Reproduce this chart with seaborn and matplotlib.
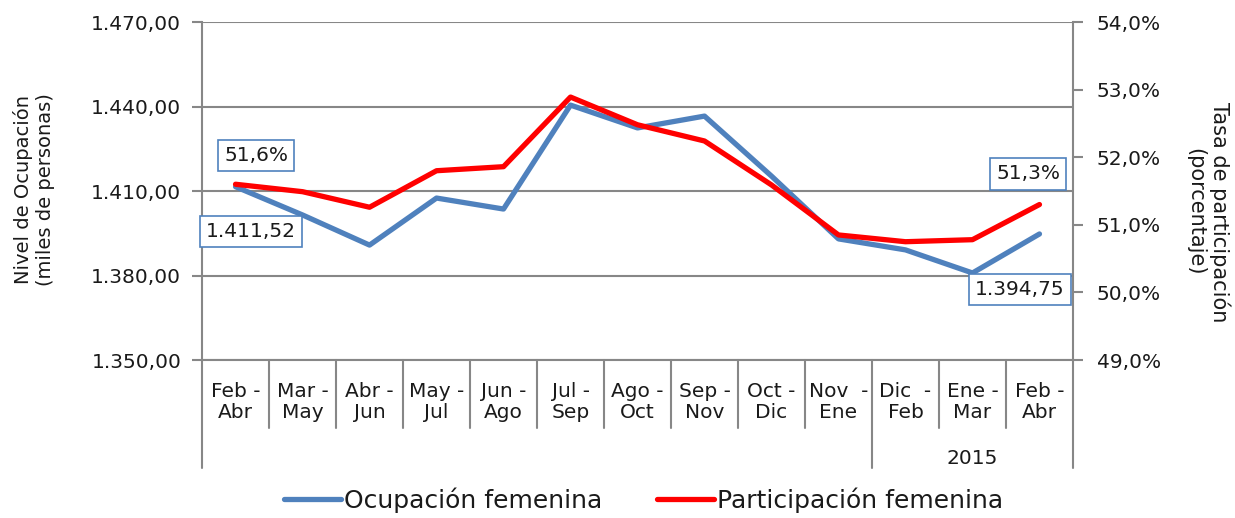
import numpy as np
import pandas as pd
import seaborn as sns
from matplotlib import pyplot as plt
from matplotlib import transforms

periodos = ['Feb -\nAbr', 'Mar -\nMay', 'Abr -\nJun', 'May -\nJul', 'Jun -\nAgo', 'Jul -\nSep',
            'Ago -\nOct', 'Sep -\nNov', 'Oct -\nDic', 'Nov  -\nEne', 'Dic  -\nFeb', 'Ene -\nMar', 'Feb -\nAbr']
ocupacion = [1411.52, 1401.5, 1390.8, 1407.5, 1403.6, 1440.5, 1432.4, 1436.6, 1415.3, 1393.0, 1389.1, 1380.9, 1394.75]
participacion = [51.6, 51.49, 51.26, 51.80, 51.86, 52.89, 52.48, 52.24, 51.59, 50.85, 50.75, 50.78, 51.3]
anio = '2015'
anio_desde = 10  # primer periodo de 2015

sns.set_style('white')
plt.rcParams['font.family'] = ['DejaVu Sans']

df = pd.DataFrame({'x': np.arange(len(periodos)), 'ocup': ocupacion, 'part': participacion})

azul = '#4F81BD'
rojo = '#FF0000'
gris = '#878787'
txt = '#1a1a1a'
fs = 14.5

fig = plt.figure(figsize=(12.35, 5.18), dpi=100)
ax = fig.add_axes([0.1636, 0.305, 0.7052, 0.6525])
ax2 = ax.twinx()

sns.lineplot(data=df, x='x', y='ocup', ax=ax, color=azul, lw=3.8, label='Ocupación femenina', legend=False)
sns.lineplot(data=df, x='x', y='part', ax=ax2, color=rojo, lw=3.8, label='Participación femenina', legend=False)

ax.set_xlim(-0.5, len(periodos) - 0.5)
ax.set_ylim(1350, 1470)
ax.set_yticks(np.arange(1350, 1471, 30))
ax.set_yticklabels([f'{v:,.2f}'.replace(',', 'X').replace('.', ',').replace('X', '.') for v in np.arange(1350, 1471, 30)])
ax2.set_ylim(49, 54)
ax2.set_yticks(np.arange(49, 54.1, 1))
ax2.set_yticklabels([f'{v:.1f}%'.replace('.', ',') for v in np.arange(49, 54.1, 1)])

ax.grid(axis='y', color=gris, lw=1.5)
ax.set_axisbelow(True)
for a in (ax, ax2):
    for s in a.spines.values():
        s.set_visible(False)
for a, lado in ((ax, 'left'), (ax, 'bottom'), (ax2, 'right')):
    a.spines[lado].set_visible(True)
    a.spines[lado].set_color(gris)
    a.spines[lado].set_linewidth(1.5)

ax.tick_params(axis='y', left=True, length=7, width=1.5, color=gris, labelsize=fs, pad=8, labelcolor=txt)
ax2.tick_params(axis='y', right=True, length=7, width=1.5, color=gris, labelsize=fs, pad=10, labelcolor=txt)
ax.set_xticks(df['x'])
ax.set_xticklabels(periodos, fontsize=fs, linespacing=1.15, color=txt)
ax.tick_params(axis='x', bottom=False, pad=12)
ax.set_xlabel('')
ax.set_ylabel('')
ax2.set_ylabel('')
fig.text(34 / 1235, 1 - 190 / 518, 'Nivel de Ocupación\n(miles de personas)', fontsize=14,
         rotation=90, ha='center', va='center', multialignment='center', color=txt)
fig.text(1208 / 1235, 1 - 212 / 518, 'Tasa de participación\n(porcentaje)', fontsize=15,
         rotation=-90, ha='center', va='center', multialignment='center', color=txt)

# separadores de categorias
trans = transforms.blended_transform_factory(ax.transData, ax.transAxes)
for k in range(len(periodos) + 1):
    b = k - 0.5
    largo = k in (0, anio_desde, len(periodos))
    ax.plot([b, b], [0, -0.32 if largo else -0.2], transform=trans, color=gris, lw=1.5, clip_on=False)
ax.text((anio_desde - 0.5 + len(periodos) - 0.5) / 2, -0.29, anio, transform=trans,
        ha='center', va='center', fontsize=fs, color=txt)

# etiquetas de datos
caja = dict(boxstyle='square,pad=0.3', fc='white', ec=azul, lw=1.2)
ax2.annotate('51,6%', (0, participacion[0]), xytext=(15, 21), textcoords='offset points',
             ha='center', va='center', fontsize=fs, bbox=caja, color=txt)
ax.annotate('1.411,52', (0, ocupacion[0]), xytext=(11, -32), textcoords='offset points',
            ha='center', va='center', fontsize=fs, bbox=caja, color=txt)
ax2.annotate('51,3%', (12, participacion[-1]), xytext=(-8, 22), textcoords='offset points',
             ha='center', va='center', fontsize=fs, bbox=caja, color=txt)
ax.annotate('1.394,75', (12, ocupacion[-1]), xytext=(-14, -40), textcoords='offset points',
            ha='center', va='center', fontsize=fs, bbox=caja, color=txt)

h1, l1 = ax.get_legend_handles_labels()
h2, l2 = ax2.get_legend_handles_labels()
fig.legend(h1 + h2, l1 + l2, loc='center', bbox_to_anchor=(0.521, 0.035), ncol=2, frameon=False,
           fontsize=18, handlelength=2.3, handletextpad=0.1, columnspacing=2.2, labelcolor=txt)

fig.savefig('out.png', dpi=100)
